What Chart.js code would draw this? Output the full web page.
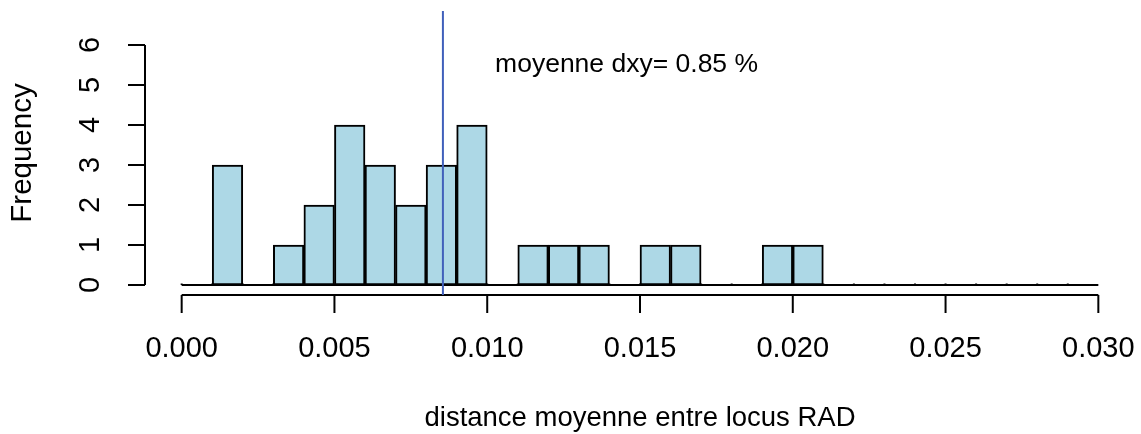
<!DOCTYPE html>
<html>
<head>
<meta charset="utf-8">
<script src="https://cdn.jsdelivr.net/npm/chart.js@4"></script>
<style>
  html, body { margin: 0; padding: 0; background: #fff; }
  #box { width: 1141px; height: 434px; }
</style>
</head>
<body>
<div id="box"><canvas id="grafico"></canvas></div>
<script>
// histogram bins (left edge of each bin) and counts
var binLeft = [0.000, 0.001, 0.002, 0.003, 0.004, 0.005, 0.006, 0.007, 0.008, 0.009,
               0.010, 0.011, 0.012, 0.013, 0.014, 0.015, 0.016, 0.017, 0.018, 0.019,
               0.020, 0.021, 0.022, 0.023, 0.024, 0.025, 0.026, 0.027, 0.028, 0.029];
var counts  = [0, 3, 0, 1, 2, 4, 3, 2, 3, 4,
               0, 1, 1, 1, 0, 1, 1, 0, 0, 1,
               1, 0, 0, 0, 0, 0, 0, 0, 0, 0];
var binWidth = 0.001;
var xTicks = [0.000, 0.005, 0.010, 0.015, 0.020, 0.025, 0.030];
var yTicks = [0, 1, 2, 3, 4, 5, 6];
var moyenne = 0.00855;
var texteMoyenne = "moyenne dxy= 0.85 %";
var titreX = "distance moyenne entre locus RAD";
var titreY = "Frequency";

var fonte = '"Liberation Sans", Arial, sans-serif';

var pontos = binLeft.map(function (b, i) { return { x: b + binWidth / 2, y: counts[i] }; });

// draws R-like axes, the mean line and the text
var eixosR = {
    id: 'eixosR',
    afterDatasetsDraw: function (chart) {
        var ctx = chart.ctx, xs = chart.scales.x, ys = chart.scales.y, area = chart.chartArea;
        ctx.save();
        ctx.strokeStyle = '#000';
        ctx.fillStyle = '#000';
        ctx.lineWidth = 2;

        // baseline under empty bins
        ctx.beginPath();
        ctx.moveTo(xs.getPixelForValue(binLeft[0]), ys.getPixelForValue(0));
        ctx.lineTo(xs.getPixelForValue(binLeft[binLeft.length - 1] + binWidth), ys.getPixelForValue(0));
        ctx.stroke();
        // small edges of empty bins
        binLeft.forEach(function (b) {
            var px = xs.getPixelForValue(b);
            ctx.beginPath();
            ctx.moveTo(px, ys.getPixelForValue(0));
            ctx.lineTo(px, ys.getPixelForValue(0) - 1.5);
            ctx.stroke();
        });

        // x axis
        var yb = area.bottom;
        ctx.beginPath();
        ctx.moveTo(xs.getPixelForValue(xTicks[0]), yb);
        ctx.lineTo(xs.getPixelForValue(xTicks[xTicks.length - 1]), yb);
        ctx.stroke();
        ctx.font = '29px ' + fonte;
        ctx.textAlign = 'center';
        ctx.textBaseline = 'middle';
        xTicks.forEach(function (t) {
            var px = xs.getPixelForValue(t);
            ctx.beginPath();
            ctx.moveTo(px, yb);
            ctx.lineTo(px, yb + 18);
            ctx.stroke();
            ctx.fillText(t.toFixed(3), px, yb + 54);
        });

        // y axis
        var xl = area.left;
        ctx.beginPath();
        ctx.moveTo(xl, ys.getPixelForValue(yTicks[0]));
        ctx.lineTo(xl, ys.getPixelForValue(yTicks[yTicks.length - 1]));
        ctx.stroke();
        yTicks.forEach(function (t) {
            var py = ys.getPixelForValue(t);
            ctx.beginPath();
            ctx.moveTo(xl, py);
            ctx.lineTo(xl - 17, py);
            ctx.stroke();
            ctx.save();
            ctx.translate(xl - 54, py);
            ctx.rotate(-Math.PI / 2);
            ctx.fillText(String(t), 0, 0);
            ctx.restore();
        });

        // axis titles
        ctx.font = '27.5px ' + fonte;
        ctx.fillText(titreX, (xs.getPixelForValue(xs.min) + xs.getPixelForValue(xs.max)) / 2, yb + 123);
        ctx.save();
        ctx.translate(23, (area.top + area.bottom) / 2);
        ctx.rotate(-Math.PI / 2);
        ctx.font = '29.5px ' + fonte;
        ctx.fillText(titreY, 0, 0);
        ctx.restore();

        // mean line
        ctx.strokeStyle = '#4060bb';
        ctx.lineWidth = 2;
        var mx = xs.getPixelForValue(moyenne);
        ctx.beginPath();
        ctx.moveTo(mx, area.top);
        ctx.lineTo(mx, area.bottom);
        ctx.stroke();

        // mean text
        ctx.font = '26.5px ' + fonte;
        ctx.fillText(texteMoyenne, xs.getPixelForValue(0.01456), ys.getPixelForValue(5.5));
        ctx.restore();
    }
};

new Chart(document.getElementById('grafico').getContext('2d'), {
    type: 'bar',
    data: {
        datasets: [{
            label: titreY,
            data: pontos,
            backgroundColor: '#add8e6',
            borderColor: '#000',
            borderWidth: 2,
            borderSkipped: false,
            barPercentage: 1.0,
            categoryPercentage: 1.0
        }]
    },
    options: {
        responsive: true,
        maintainAspectRatio: false,
        animation: false,
        layout: { padding: { left: 145, top: 11, right: 6, bottom: 139 } },
        plugins: { legend: { display: false }, tooltip: { enabled: false } },
        scales: {
            x: { type: 'linear', display: false, min: -0.0012, max: 0.0312, offset: false },
            y: { display: false, min: -0.25, max: 6.85 }
        }
    },
    plugins: [eixosR]
});
</script>
</body>
</html>
